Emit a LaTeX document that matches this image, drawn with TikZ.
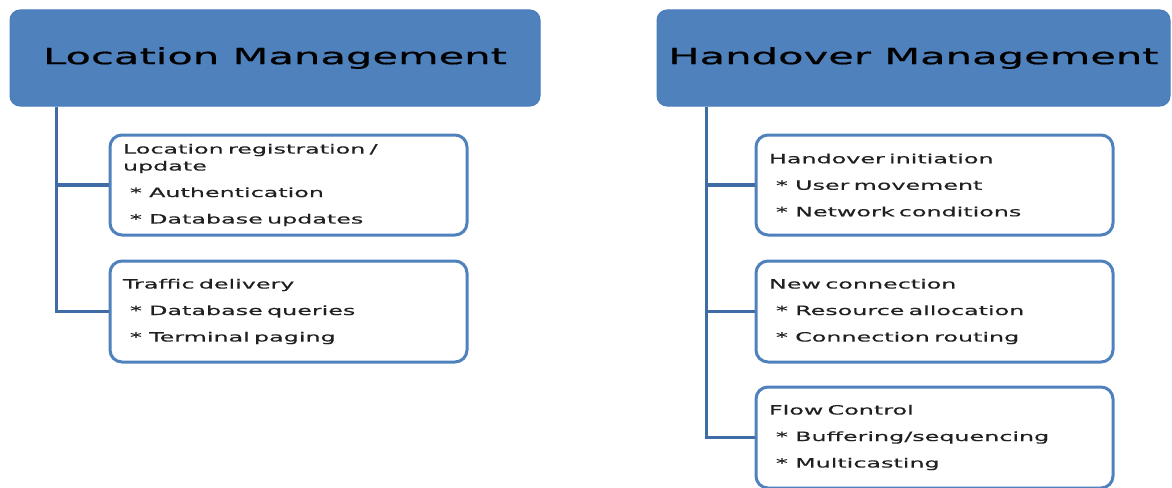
\documentclass[tikz,border=0pt]{standalone}
\usepackage{fontspec}
\usetikzlibrary{calc}
\newfontfamily\diagfont[FakeStretch=1.86, FakeBold=0.6]{DejaVu Sans}
\newfontfamily\itemfont[FakeStretch=1.86, FakeBold=0.4]{DejaVu Sans}
\definecolor{hdrblue}{HTML}{4F81BD}
\definecolor{edgeblue}{HTML}{4A7EBB}
\definecolor{trunkblue}{HTML}{3F6CA6}
\definecolor{inktext}{HTML}{202020}
\tikzset{
  header/.style={draw=edgeblue, line width=1pt, fill=hdrblue, rounded corners=10pt,
    minimum height=96pt, inner sep=0pt, text=black,
    font=\diagfont\fontsize{22.4}{26}\selectfont},
  itembox/.style={draw=hdrblue, line width=3pt, fill=white, rounded corners=12pt,
    minimum height=100pt, text width=331pt, inner xsep=13pt, inner ysep=0pt,
    align=left, text=inktext,
    font=\itemfont\fontsize{12.8}{26.5}\selectfont},
  trunk/.style={draw=trunkblue, line width=3.5pt}
}
\newcommand{\itm}{\hspace*{7pt}*\hspace{3pt} }
\begin{document}
\begin{tikzpicture}[x=1pt, y=-1pt]
  \useasboundingbox (0,0) rectangle (1172,487);

  % headers
  \node[header, minimum width=530pt] (lhead) at (275,58) {Location Management};
  \node[header, minimum width=513pt] (rhead) at (913.5,58) {Handover Management};

  % location management items
  \node[itembox, minimum width=357pt] (lb1) at (288.5,185)
    {Location registration /\\[-9.5pt]update\\\itm Authentication\\\itm Database updates};
  \node[itembox, minimum width=357pt, minimum height=101pt] (lb2) at (288.5,311.5)
    {Traffic delivery\\\itm Database queries\\\itm Terminal paging};

  % handover management items
  \node[itembox, minimum width=355pt] (rb1) at (934.5,185)
    {Handover initiation\\\itm User movement\\\itm Network conditions};
  \node[itembox, minimum width=355pt, minimum height=101pt] (rb2) at (934.5,311.5)
    {New connection\\\itm Resource allocation\\\itm Connection routing};
  \node[itembox, minimum width=355pt, minimum height=101pt] (rb3) at (934.5,437.5)
    {Flow Control\\\itm Buffering/sequencing\\\itm Multicasting};

  % tree connectors
  \coordinate (ltop) at ($(lhead.south west)+(47,0)$);
  \coordinate (rtop) at ($(rhead.south west)+(50,0)$);
  \draw[trunk] (ltop) |- (lb2.west);
  \draw[trunk] (ltop) |- (lb1.west);
  \draw[trunk] (rtop) |- (rb3.west);
  \draw[trunk] (rtop) |- (rb2.west);
  \draw[trunk] (rtop) |- (rb1.west);
\end{tikzpicture}
\end{document}
